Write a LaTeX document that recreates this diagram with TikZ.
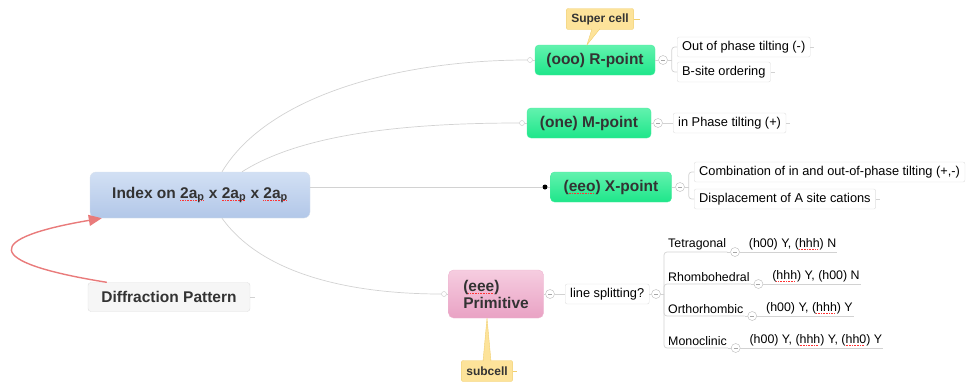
\documentclass[tikz,border=0pt]{standalone}
\usepackage{fontspec}
\setmainfont{Liberation Sans}
\usetikzlibrary{arrows.meta}

\definecolor{linegray}{HTML}{D2D2D2}
\definecolor{darktext}{HTML}{333333}
\definecolor{bluetop}{HTML}{D2E0F4}
\definecolor{bluebot}{HTML}{B2C7E8}
\definecolor{greentop}{HTML}{62F2AE}
\definecolor{greenbot}{HTML}{1EE68A}
\definecolor{pinktop}{HTML}{F6CDE0}
\definecolor{pinkbot}{HTML}{E9A2C4}
\definecolor{notefill}{HTML}{FDE39A}
\definecolor{noteedge}{HTML}{F1CF6E}
\definecolor{arrowred}{HTML}{E97B7B}

% red dotted spell-check mark under a word
\newsavebox{\spellbox}
\newcommand{\spellmark}[1]{\sbox{\spellbox}{#1}\rlap{\raisebox{-2.4pt}{\textcolor{red!80}{\leaders\hbox to 1.6pt{\rule{0.9pt}{0.9pt}\hss}\hskip\wd\spellbox}}}\usebox{\spellbox}}

\tikzset{
  hub/.style={rounded corners=6pt, top color=bluetop, bottom color=bluebot,
    draw=bluebot!90!black!40, text=darktext, minimum width=220pt, minimum height=46pt,
    font=\fontsize{15.5}{18}\selectfont\bfseries},
  plainbox/.style={rounded corners=3pt, fill=gray!7, draw=gray!25, text=darktext,
    minimum width=162pt, minimum height=29pt, font=\fontsize{15.5}{18}\selectfont\bfseries},
  greenbox/.style={rounded corners=4pt, top color=greentop, bottom color=greenbot,
    draw=greenbot!80!white, text=darktext, minimum width=120pt, minimum height=30pt,
    font=\fontsize{15.5}{18}\selectfont\bfseries},
  pinkbox/.style={rounded corners=5pt, top color=pinktop, bottom color=pinkbot,
    draw=pinkbot!80!white, text=darktext, minimum width=95pt, minimum height=48pt,
    align=left, font=\fontsize{15.5}{17}\selectfont\bfseries},
  leaf/.style={rounded corners=2pt, fill=white, draw=gray!25, anchor=west,
    minimum height=20pt, inner xsep=5pt, font=\fontsize{12.8}{15}\selectfont},
  branchlbl/.style={anchor=south west, inner xsep=1pt, inner ysep=2pt,
    font=\fontsize{12.4}{15}\selectfont},
  note/.style={rounded corners=2pt, fill=notefill, draw=noteedge, text=darktext,
    inner xsep=5pt, minimum height=21pt, font=\fontsize{12}{14}\selectfont\bfseries},
  minus/.style={circle, draw=gray!55, fill=white, minimum size=9pt, inner sep=0pt,
    path picture={\draw[gray!70, line width=0.6pt]
      ([xshift=-2pt]path picture bounding box.center) --
      ([xshift=2pt]path picture bounding box.center);}},
  opendot/.style={circle, draw=gray!45, fill=white, minimum size=5pt, inner sep=0pt},
  fulldot/.style={circle, fill=black, minimum size=5pt, inner sep=0pt},
  branch/.style={draw=linegray, line width=0.7pt},
  feedback/.style={draw=arrowred, line width=1.4pt,
    -{Triangle[length=13pt, width=11pt]}}
}

\begin{document}
\begin{tikzpicture}[x=1pt, y=-1pt]
  \useasboundingbox (0,0) rectangle (968,381);

  % main topics
  \node[hub] (index) at (200,195) {Index on \spellmark{2a\textsubscript{p}} x \spellmark{2a\textsubscript{p}} x \spellmark{2a\textsubscript{p}}};
  \node[plainbox] (diff) at (169,297) {Diffraction Pattern};
  \draw[branch] (diff.east) -- ++(5,0);

  \node[greenbox] (rpt) at (595,60) {(ooo) R-point};
  \node[greenbox, minimum width=124pt] (mpt) at (589,123) {(one) M-point};
  \node[greenbox, minimum width=121pt] (xpt) at (611,187) {(\spellmark{eeo}) X-point};
  \node[pinkbox] (prim) at (496,294) {(\spellmark{eee})\\Primitive};

  \node[opendot] (rin) at (530,60) {};
  \node[opendot] (min) at (522,123) {};
  \node[fulldot] (xin) at (545,187) {};
  \node[opendot] (pin) at (444,294) {};

  % connectors from the hub
  \draw[branch] ([xshift=22pt]index.north) .. controls (268,95) and (400,60) .. (rin.west);
  \draw[branch] ([xshift=42pt]index.north) .. controls (300,135) and (400,123) .. (min.west);
  \draw[branch] ([yshift=8pt]index.east) -- (xin.west);
  \draw[branch] ([xshift=22pt]index.south) .. controls (270,285) and (380,294) .. (pin.west);
  \draw[branch] (rin) -- (rpt);
  \draw[branch] (min) -- (mpt);
  \draw[branch] (xin) -- (xpt);
  \draw[branch] (pin) -- (prim);

  % red arrow
  \draw[feedback] ([xshift=19pt]diff.north west) .. controls (-20,262) and (-15,238) .. ([xshift=12pt]index.south west);

  % R-point
  \node[minus] (rm) at (663,60) {};
  \node[leaf] (oop) at (677,47) {Out of phase tilting (-)};
  \node[leaf] (bsite) at (677,72) {B-site ordering};
  \draw[branch] (rpt) -- (rm);
  \draw[branch] (rm) -- ([xshift=4pt]rm.east);
  \draw[branch, rounded corners=3pt] (oop.west) -| ([xshift=4pt]rm.east) |- (bsite.west);
  \draw[branch] (oop.east) -- ++(4,0);
  \draw[branch] (bsite.east) -- ++(4,0);

  \node[note] (super) at (600,19) {Super cell};
  \filldraw[fill=notefill, draw=noteedge] ([xshift=-8pt, yshift=1pt]super.south) -- ([xshift=-8pt]rpt.north) -- ([yshift=1pt]super.south);
  \draw[noteedge, line width=0.7pt] (super.east) -- ++(6,0);

  % M-point
  \node[minus] (mm) at (658,123) {};
  \node[leaf] (inph) at (673,123) {in Phase tilting (+)};
  \draw[branch] (mpt) -- (mm) -- (inph);
  \draw[branch] (inph.east) -- ++(4,0);

  % X-point
  \node[minus] (xm) at (680,187) {};
  \node[leaf] (comb) at (694,172) {Combination of in and out-of-phase tilting (+,-)};
  \node[leaf] (disp) at (694,199) {Displacement of A site cations};
  \draw[branch] (xpt) -- (xm);
  \draw[branch] (xm) -- ([xshift=4pt]xm.east);
  \draw[branch, rounded corners=3pt] (comb.west) -| ([xshift=4pt]xm.east) |- (disp.west);
  \draw[branch] (disp.east) -- ++(4,0);

  % Primitive
  \node[note] (sub) at (487,371) {subcell};
  \filldraw[fill=notefill, draw=noteedge] ([xshift=-4pt, yshift=-1pt]sub.north) -- ([xshift=-9pt]prim.south) -- ([xshift=4pt, yshift=-1pt]sub.north);
  \draw[noteedge, line width=0.7pt] (sub.east) -- ++(4,0);

  \node[minus] (pm) at (550,294) {};
  \node[leaf] (split) at (565,294) {line splitting?};
  \node[minus] (sm) at (656,294) {};
  \coordinate (fork) at (664,294);
  \draw[branch] (prim) -- (pm) -- (split) -- (sm) -- (fork);

  \node[branchlbl] (tet) at (667,252) {Tetragonal};
  \node[branchlbl] (rho) at (667,284) {Rhombohedral};
  \node[branchlbl] (ort) at (667,316) {Orthorhombic};
  \node[branchlbl] (mon) at (667,348) {Monoclinic};
  \draw[branch, rounded corners=3pt] (fork) |- (tet.south east);
  \draw[branch, rounded corners=3pt] (fork) |- (rho.south east);
  \draw[branch, rounded corners=3pt] (fork) |- (ort.south east);
  \draw[branch, rounded corners=3pt] (fork) |- (mon.south east);

  \node[minus, anchor=west] (tm) at ([xshift=3pt]tet.south east) {};
  \node[minus, anchor=west] (rhm) at ([xshift=3pt]rho.south east) {};
  \node[minus, anchor=west] (om) at ([xshift=3pt]ort.south east) {};
  \node[minus, anchor=west] (mom) at ([xshift=3pt]mon.south east) {};

  \node[branchlbl] (tetv) at ([xshift=8pt]tm.east) {(h00) Y, (\spellmark{hhh}) N};
  \node[branchlbl] (rhov) at ([xshift=8pt]rhm.east) {(\spellmark{hhh}) Y, (h00) N};
  \node[branchlbl] (ortv) at ([xshift=8pt]om.east) {(h00) Y, (\spellmark{hhh}) Y};
  \node[branchlbl] (monv) at ([xshift=8pt]mom.east) {(h00) Y, (\spellmark{hhh}) Y, (\spellmark{hh0}) Y};
  \draw[branch] (tet.south east) -- (tm) -- (tetv.south east);
  \draw[branch] (rho.south east) -- (rhm) -- (rhov.south east);
  \draw[branch] (ort.south east) -- (om) -- (ortv.south east);
  \draw[branch] (mon.south east) -- (mom) -- (monv.south east);
\end{tikzpicture}
\end{document}
